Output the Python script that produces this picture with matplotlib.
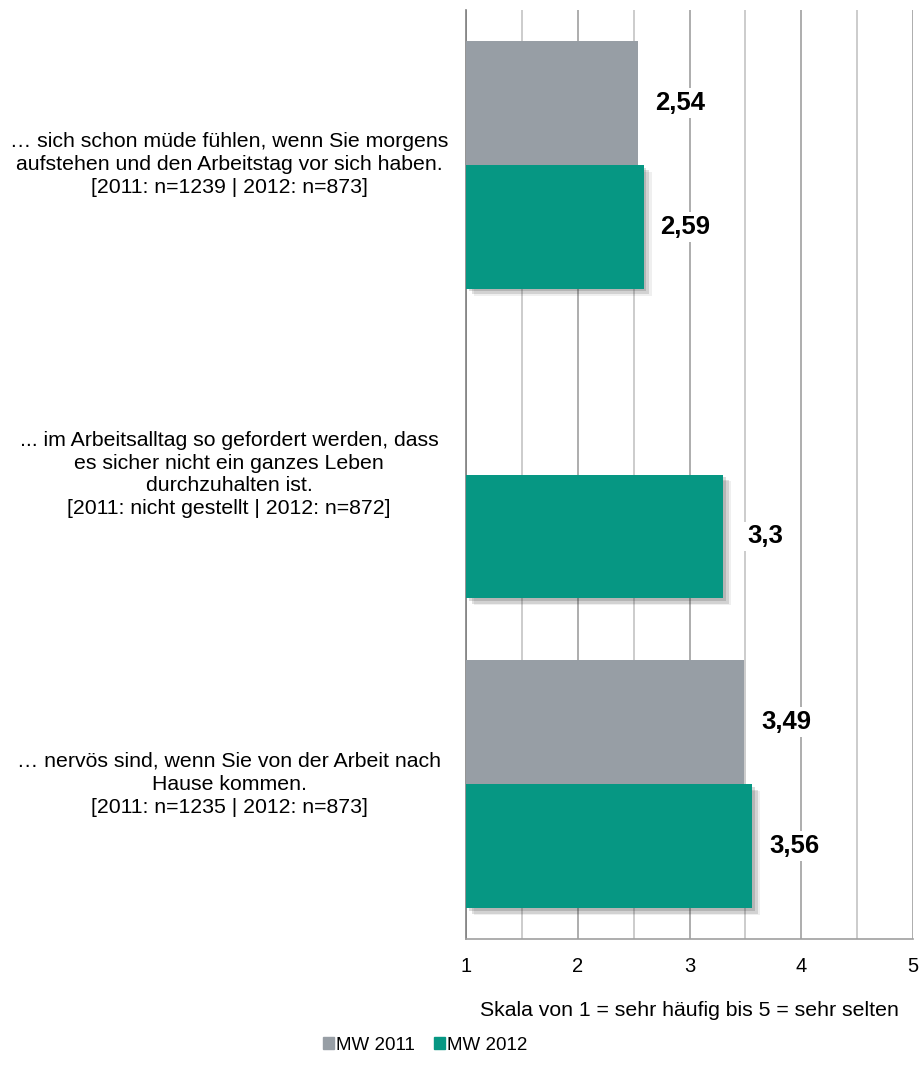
import numpy as np
import matplotlib.pyplot as plt
import matplotlib.patheffects as pe
from matplotlib.patches import Patch

plt.rcParams['font.family'] = ['Liberation Sans', 'DejaVu Sans']

fragen = [
    "\u2026 sich schon müde fühlen, wenn Sie morgens\naufstehen und den Arbeitstag vor sich haben.\n[2011: n=1239 | 2012: n=873]",
    "... im Arbeitsalltag so gefordert werden, dass\nes sicher nicht ein ganzes Leben\ndurchzuhalten ist.\n[2011: nicht gestellt | 2012: n=872]",
    "\u2026 nervös sind, wenn Sie von der Arbeit nach\nHause kommen.\n[2011: n=1235 | 2012: n=873]",
]
mw2011 = [2.54, None, 3.49]
mw2012 = [2.59, 3.30, 3.56]
labels2011 = ["2,54", "", "3,49"]
labels2012 = ["2,59", "3,3", "3,56"]

grau = "#979ea5"
gruen = "#069783"

fig = plt.figure(figsize=(9.22, 10.70), dpi=100)
ax = fig.add_axes([466/922, 1-939/1070, 447/922, 929/1070])

pos = np.arange(len(fragen))
h = 0.4
# weicher Schatten, aus mehreren Lagen zusammengesetzt
schatten = [pe.SimplePatchShadow(offset=(2, -2), shadow_rgbFace="#333333", alpha=0.18),
            pe.SimplePatchShadow(offset=(4, -4), shadow_rgbFace="#333333", alpha=0.15),
            pe.SimplePatchShadow(offset=(6, -5), shadow_rgbFace="#333333", alpha=0.08),
            pe.Normal()]

for i in pos:
    if mw2011[i] is not None:
        ax.barh(i - h/2, mw2011[i] - 1, left=1, height=h, color=grau, zorder=3)
        ax.text(mw2011[i] + 0.375, i - h/2, labels2011[i], va="center", ha="center",
                fontsize=18.5, fontweight="bold", zorder=4,
                bbox=dict(facecolor="white", edgecolor="none", pad=2))
    b = ax.barh(i + h/2, mw2012[i] - 1, left=1, height=h, color=gruen, zorder=3)
    for r in b:
        r.set_path_effects(schatten)
    ax.text(mw2012[i] + 0.375, i + h/2, labels2012[i], va="center", ha="center",
            fontsize=18.5, fontweight="bold", zorder=4,
            bbox=dict(facecolor="white", edgecolor="none", pad=2))

ax.set_xlim(1, 5)
ax.set_ylim(len(fragen) - 0.5, -0.5)
ax.set_xticks([1, 2, 3, 4, 5])
ax.set_xticks(np.arange(1.5, 5.01, 1), minor=True)
ax.grid(axis="x", which="major", color="#a0a0a0", linewidth=1.2, zorder=0)
ax.grid(axis="x", which="minor", color="#c4c4c4", linewidth=1.2, zorder=0)
ax.tick_params(axis="x", which="both", length=0, labelsize=14.5, pad=13)
ax.set_yticks([])
for s in ["top", "right"]:
    ax.spines[s].set_visible(False)
ax.spines["left"].set_color("#808080")
ax.spines["left"].set_linewidth(1.2)
ax.spines["bottom"].set_color("#a0a0a0")
ax.spines["bottom"].set_linewidth(1.2)
ax.set_xlabel("Skala von 1 = sehr häufig bis 5 = sehr selten", fontsize=15.3, labelpad=18)

for i, t in enumerate(fragen):
    ax.text(-0.530, i, t, transform=ax.get_yaxis_transform(), ha="center", va="center",
            multialignment="center", fontsize=15.3, linespacing=1.26)

handles = [Patch(color=grau, label="MW 2011"), Patch(color=gruen, label="MW 2012")]
fig.legend(handles=handles, loc="center", bbox_to_anchor=(425/922, 1-1045/1070), ncol=2,
           frameon=False, fontsize=13.5, handlelength=0.6, handleheight=0.6,
           handletextpad=0.1, columnspacing=1.0)

fig.savefig("out.png", dpi=100)
